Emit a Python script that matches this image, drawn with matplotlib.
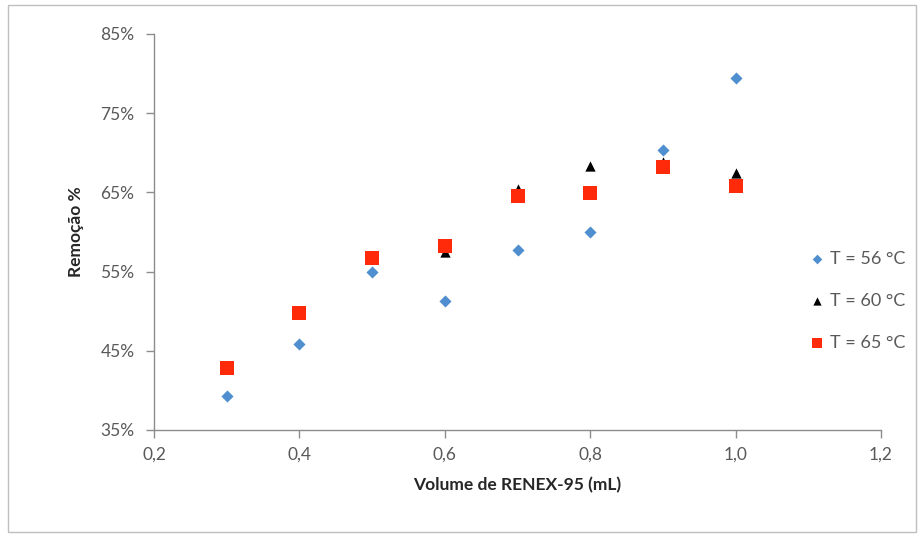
import matplotlib
matplotlib.use("Agg")
import matplotlib.pyplot as plt
from matplotlib.ticker import FuncFormatter, MultipleLocator
from matplotlib.patches import Rectangle

# dados
volume = [0.3, 0.4, 0.5, 0.6, 0.7, 0.8, 0.9, 1.0]
rem_56 = [39.3, 45.9, 55.0, 51.3, 57.7, 60.0, 70.4, 79.4]
rem_60 = [43.0, 50.0, 56.8, 57.5, 65.4, 68.3, 68.8, 67.5]
rem_65 = [42.8, 49.8, 56.7, 58.2, 64.5, 64.9, 68.2, 65.8]
labels = ["T = 56 °C", "T = 60 °C", "T = 65 °C"]
yticks = [35, 45, 55, 65, 75, 85]

plt.rcParams['font.family'] = ['Lato', 'DejaVu Sans']

fig = plt.figure(figsize=(9.24, 5.37), dpi=100)
ax = fig.add_axes([0.1667, 0.1993, 0.9535 - 0.1667, 0.9367 - 0.1993])

ax.scatter(volume, rem_56, marker='D', s=38, color='#4f8fd0', label=labels[0], zorder=3, linewidths=0)
ax.scatter(volume, rem_60, marker='^', s=55, color='black', label=labels[1], zorder=4, linewidths=0)
ax.scatter(volume, rem_65, marker='s', s=95, color='#ff2a0a', label=labels[2], zorder=5, linewidths=0)

ax.set_xlim(0.2, 1.2)
ax.set_ylim(35, 85)
ax.xaxis.set_major_locator(MultipleLocator(0.2))
ax.set_yticks(yticks)
ax.xaxis.set_major_formatter(FuncFormatter(lambda v, p: f"{v:.1f}".replace('.', ',')))
ax.yaxis.set_major_formatter(FuncFormatter(lambda v, p: f"{v:.0f}%"))

for s in ['top', 'right']:
    ax.spines[s].set_visible(False)
for s in ['left', 'bottom']:
    ax.spines[s].set_color('#8c8c8c')
    ax.spines[s].set_linewidth(1.0)
ax.tick_params(axis='both', colors='#8c8c8c', labelcolor='#595959', labelsize=12.5, length=6, width=1)
ax.tick_params(axis='y', pad=8)
ax.tick_params(axis='x', pad=6)

ax.set_xlabel("Volume de RENEX-95 (mL)", fontsize=12.5, fontweight='bold', color='#262626', labelpad=10)
ax.set_ylabel("Remoção %", fontsize=12.5, fontweight='bold', color='#262626', labelpad=12)

h, l = ax.get_legend_handles_labels()
leg = fig.legend(h, l, loc='center right', bbox_to_anchor=(0.995, 0.44), frameon=False, fontsize=13,
                 handlelength=0.6, handletextpad=0.4, labelspacing=1.45, borderaxespad=0.4,
                 markerscale=0.8)
for t in leg.get_texts():
    t.set_color('#595959')

# moldura externa
fig.patches.append(Rectangle((0.009, 0.01), 0.982, 0.98, transform=fig.transFigure,
                             fill=False, edgecolor='#bfbfbf', linewidth=1.0))

fig.savefig("out.png", dpi=100)
